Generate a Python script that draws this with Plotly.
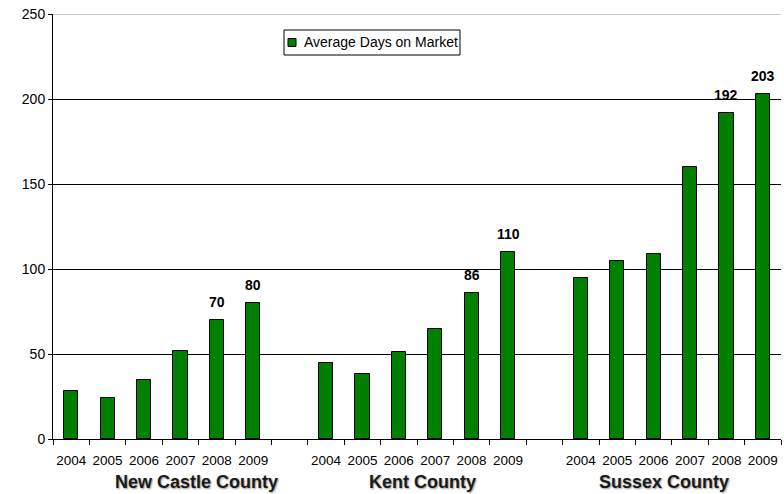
import plotly.graph_objects as go

# Average days on market by county and year
counties = ["New Castle County", "Kent County", "Sussex County"]
years = ["2004", "2005", "2006", "2007", "2008", "2009"]
new_castle = [28, 24, 35, 52, 70, 80]
kent = [45, 38, 51, 65, 86, 110]
sussex = [95, 105, 109, 160, 192, 203]
labeled_years = ["2008", "2009"]
y_ticks = [0, 50, 100, 150, 200, 250]
series_name = "Average Days on Market"

series = [new_castle, kent, sussex]

# Build one category per (county, year), with an empty spacer slot between counties
categories, tick_text = [], []
xs, ys = [], []
for gi, (county, vals) in enumerate(zip(counties, series)):
    for yr, v in zip(years, vals):
        key = f"{county} {yr}"
        categories.append(key)
        tick_text.append(yr)
        xs.append(key)
        ys.append(v)
    if gi < len(counties) - 1:
        gap = " " * (gi + 1)
        categories.append(gap)
        tick_text.append("")

font_family = "Liberation Sans, Arial, sans-serif"
green = "#008000"

fig = go.Figure()
fig.add_trace(go.Bar(
    x=xs, y=ys,
    marker=dict(color=green, line=dict(color="#000000", width=1)),
    width=0.39,
    name=series_name,
    showlegend=False,
))

fig.update_layout(
    width=784, height=494,
    margin=dict(l=53, r=3, t=14, b=55),
    paper_bgcolor="white", plot_bgcolor="white",
    font=dict(family=font_family, size=12, color="#000000"),
    showlegend=False,
    xaxis=dict(
        type="category", categoryorder="array", categoryarray=categories,
        tickmode="array", tickvals=categories, ticktext=tick_text,
        tickson="boundaries", ticks="outside", ticklen=5, tickcolor="#000000",
        ticklabelstandoff=9, tickangle=0, automargin=False,
        showline=True, linecolor="#000000", linewidth=1,
        showgrid=False, range=[-0.5, len(categories) - 0.5],
        tickfont=dict(size=13.5), fixedrange=True,
    ),
    yaxis=dict(
        range=[0, 250], tickvals=y_ticks, automargin=False,
        ticks="outside", ticklen=4, tickcolor="#000000",
        showline=True, linecolor="#000000", linewidth=1,
        showgrid=True, gridcolor="#000000", gridwidth=1,
        zeroline=False, tickfont=dict(size=14),
    ),
    bargap=0,
)

# Light top border of the plot area
fig.add_shape(type="line", xref="paper", yref="y", x0=0, x1=1, y0=250, y1=250,
              line=dict(color="#c8c8c8", width=2), layer="above")

# Value labels over the latest two years of each county
for x, v in zip(xs, ys):
    if x.split(" ")[-1] in labeled_years:
        fig.add_annotation(
            x=x, y=v, xref="x", yref="y", text=f"<b>{v}</b>",
            showarrow=False, yanchor="bottom", yshift=8,
            font=dict(family=font_family, size=14, color="#000000"),
        )

# County group labels under the year ticks
group_centers = [3.44, 9.65, 16.28]
for county, cx in zip(counties, group_centers):
    fig.add_annotation(
        x=cx, y=-0.101, xref="x", yref="paper", text=f"<b>{county}</b>",
        showarrow=False, yanchor="middle",
        font=dict(family=font_family, size=18, color="#1a1a1a",
                  shadow="1px 1px 2px #9a9a9a"),
    )

# Legend box with a swatch for the single series
fig.add_annotation(
    x=(302 - 53) / 728, y=(439 - 42.5) / 425, xref="paper", yref="paper",
    text=series_name, showarrow=False, xanchor="left", yanchor="middle",
    font=dict(family=font_family, size=14, color="#000000"),
)
fig.add_shape(type="rect", xref="paper", yref="paper",
              x0=(284 - 53) / 728, x1=(460 - 53) / 728,
              y0=(439 - 55) / 425, y1=(439 - 30) / 425,
              line=dict(color="#000000", width=1), fillcolor="rgba(0,0,0,0)",
              layer="above")
fig.add_shape(type="rect", xref="paper", yref="paper",
              x0=(288 - 53) / 728, x1=(296 - 53) / 728,
              y0=(439 - 46.5) / 425, y1=(439 - 38.5) / 425,
              line=dict(color="#000000", width=1), fillcolor=green,
              layer="above")

fig.write_html("out.html")
